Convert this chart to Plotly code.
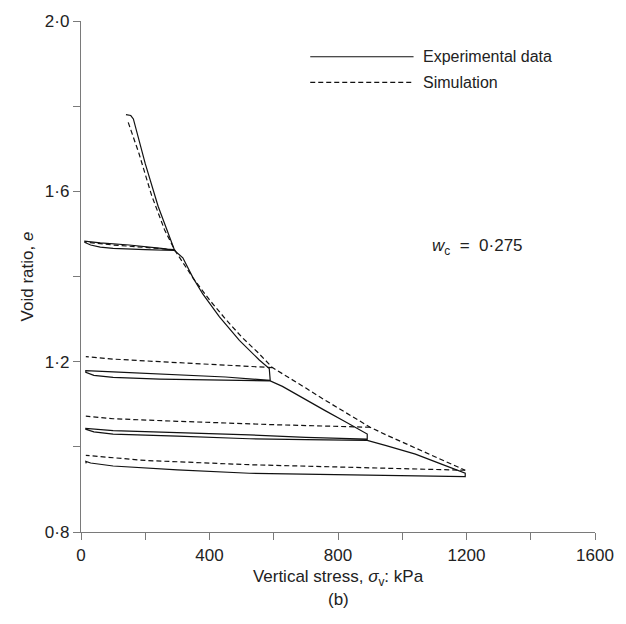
import plotly.graph_objects as go

# ---- data (stress in kPa, void ratio e) ----
exp_stress = [140, 155, 163, 200, 240, 270, 291,
              250, 150, 60, 12,
              12, 30, 60, 100, 200, 291,
              317, 348, 379, 431, 493, 555, 586, 589,
              450, 245, 100, 15,
              15, 40, 100, 245, 400, 589,
              627, 700, 760, 820, 865, 891, 891,
              700, 524, 300, 100, 15,
              15, 40, 100, 300, 524, 700, 891,
              950, 1041, 1120, 1185, 1196, 1196,
              900, 524, 300, 100, 30, 15, 16]
exp_void = [1.780, 1.778, 1.770, 1.665, 1.565, 1.505, 1.462,
            1.466, 1.474, 1.479, 1.483,
            1.480, 1.474, 1.469, 1.466, 1.463, 1.461,
            1.444, 1.398, 1.359, 1.305, 1.250, 1.204, 1.184, 1.156,
            1.164, 1.172, 1.176, 1.179,
            1.175, 1.168, 1.163, 1.159, 1.157, 1.155,
            1.142, 1.110, 1.085, 1.060, 1.042, 1.030, 1.018,
            1.022, 1.028, 1.034, 1.038, 1.043,
            1.041, 1.035, 1.030, 1.025, 1.019, 1.017, 1.015,
            1.003, 0.983, 0.960, 0.940, 0.938, 0.930,
            0.933, 0.938, 0.946, 0.955, 0.962, 0.966, 0.961]

# simulation: loading path, then the unloading/reloading lines (drawn once each)
sim_load_stress = [147, 180, 220, 260, 291, 350, 400, 450, 500, 550, 596,
                   650, 700, 750, 800, 850, 900, 950, 1000, 1050, 1100, 1150, 1196]
sim_load_void = [1.762, 1.690, 1.590, 1.510, 1.463, 1.395, 1.345, 1.300, 1.258, 1.222, 1.186,
                 1.162, 1.138, 1.114, 1.091, 1.067, 1.046, 1.028, 1.011, 0.994, 0.977, 0.961, 0.945]
sim_unload1_stress = [291, 200, 100, 12]
sim_unload1_void = [1.463, 1.468, 1.474, 1.481]
sim_unload2_stress = [596, 400, 245, 100, 15]
sim_unload2_void = [1.186, 1.193, 1.200, 1.206, 1.212]
sim_unload3_stress = [900, 600, 300, 100, 15]
sim_unload3_void = [1.046, 1.052, 1.060, 1.066, 1.072]
sim_unload4_stress = [1196, 900, 524, 200, 15]
sim_unload4_void = [0.945, 0.950, 0.958, 0.968, 0.980]

x_tickvals = [0, 200, 400, 600, 800, 1000, 1200, 1400, 1600]
x_ticktext = ["0", "", "400", "", "800", "", "1200", "", "1600"]
y_tickvals = [0.8, 1.0, 1.2, 1.4, 1.6, 1.8, 2.0]
y_ticktext = ["0·8", "", "1·2", "", "1·6", "", "2·0"]

legend_labels = ["Experimental data", "Simulation"]

FONT = "Liberation Sans, Arial, sans-serif"
AXIS_GRAY = "#7a7a7a"
TXT = "#222222"
DASH = "5px,3px"

fig = go.Figure()
fig.add_trace(go.Scatter(x=exp_stress, y=exp_void, mode="lines",
                         line=dict(color="#111111", width=1.2),
                         name=legend_labels[0], showlegend=False))

sim_segments = [(sim_load_stress, sim_load_void),
                (sim_unload1_stress, sim_unload1_void),
                (sim_unload2_stress, sim_unload2_void),
                (sim_unload3_stress, sim_unload3_void),
                (sim_unload4_stress, sim_unload4_void)]
for xs, ys in sim_segments:
    fig.add_trace(go.Scatter(x=xs, y=ys, mode="lines",
                             line=dict(color="#111111", width=1.2, dash=DASH),
                             name=legend_labels[1], showlegend=False))

# manual legend (long line samples as in the original)
for i, (lab, dash) in enumerate(zip(legend_labels, ["solid", DASH])):
    yp = 0.930 - i * 0.050
    fig.add_shape(type="line", xref="paper", yref="paper",
                  x0=0.446, x1=0.647, y0=yp, y1=yp,
                  line=dict(color="#111111", width=1.2, dash=dash))
    fig.add_annotation(xref="paper", yref="paper", x=0.662, y=yp,
                       text=lab, showarrow=False, xanchor="left", yanchor="middle",
                       font=dict(family=FONT, size=16, color=TXT))

fig.add_annotation(x=1085, y=1.47, xref="x", yref="y",
                   text="<i>w</i><sub>c</sub>  =  0·275", showarrow=False,
                   xanchor="left", yanchor="middle",
                   font=dict(family=FONT, size=17, color=TXT))

fig.add_annotation(xref="paper", yref="paper", x=0.5, y=-0.132,
                   text="(b)", showarrow=False, xanchor="center", yanchor="middle",
                   font=dict(family=FONT, size=17, color=TXT))

fig.update_layout(
    width=626, height=624,
    margin=dict(l=81, r=29, t=16, b=92),
    paper_bgcolor="white", plot_bgcolor="white",
    font=dict(family=FONT, size=17, color=TXT),
    showlegend=False,
)
fig.update_xaxes(range=[0, 1600], tickvals=x_tickvals, ticktext=x_ticktext,
                 showgrid=False, zeroline=False, showline=True,
                 linecolor=AXIS_GRAY, linewidth=1.3,
                 ticks="outside", ticklen=7, tickcolor=AXIS_GRAY, tickwidth=1.2,
                 tickfont=dict(family=FONT, size=17, color=TXT),
                 title=dict(text="Vertical stress, <i>σ</i><sub>v</sub>: kPa",
                            font=dict(family=FONT, size=17, color=TXT),
                            standoff=6))
fig.update_yaxes(range=[0.8, 2.0], tickvals=y_tickvals, ticktext=y_ticktext,
                 showgrid=False, zeroline=False, showline=True,
                 linecolor=AXIS_GRAY, linewidth=1.3,
                 ticks="outside", ticklen=7, tickcolor=AXIS_GRAY, tickwidth=1.2,
                 tickfont=dict(family=FONT, size=17, color=TXT),
                 title=dict(text="Void ratio, <i>e</i>",
                            font=dict(family=FONT, size=17, color=TXT),
                            standoff=6))

fig.write_html("out.html")
